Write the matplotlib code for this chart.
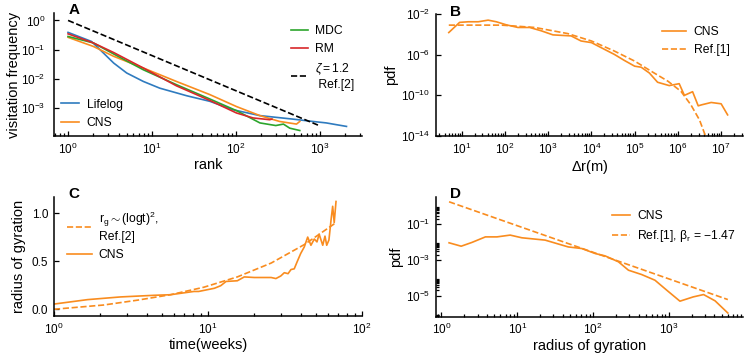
import numpy as np
import matplotlib
matplotlib.use("Agg")
import matplotlib.pyplot as plt
from matplotlib.ticker import FixedLocator, NullLocator, LogLocator

plt.rcParams['font.family'] = ['Liberation Sans', 'DejaVu Sans']
plt.rcParams['mathtext.fontset'] = 'custom'
plt.rcParams['mathtext.rm'] = 'Liberation Sans'
plt.rcParams['mathtext.it'] = 'Liberation Sans:italic'
plt.rcParams['mathtext.bf'] = 'Liberation Sans:bold'

BLUE = '#2f7bbf'
ORANGE = '#f98c1f'
GREEN = '#2ca52c'
RED = '#d8282a'

# ---- panel A: rank vs visitation frequency (log10 values)
lifelog_rank = [1, 1.9, 2.4, 3.5, 5, 7.9, 12.4, 26, 49, 93, 194, 480, 830, 1200, 1580, 2090]
lifelog_logf = [-0.41, -0.72, -1.0, -1.46, -1.8, -2.09, -2.32, -2.58, -2.77, -3.06, -3.26, -3.38,
                -3.46, -3.51, -3.57, -3.63]
cns_rank = [1, 2, 3.5, 7.9, 19.6, 49, 102, 194, 333, 530, 580]
cns_logf = [-0.58, -0.89, -1.23, -1.63, -2.09, -2.54, -2.95, -3.26, -3.46, -3.55, -3.46]
mdc_rank = [1, 2, 3.5, 7.9, 19.6, 49, 102, 194, 300, 370, 440, 580]
mdc_logf = [-0.55, -0.77, -1.15, -1.69, -2.2, -2.69, -3.09, -3.51, -3.6, -3.55, -3.69, -3.77]
rm_rank = [1, 2, 3.5, 7.9, 19.6, 49, 102, 161, 253, 270]
rm_logf = [-0.46, -0.77, -1.1, -1.63, -2.24, -2.74, -3.17, -3.34, -3.4, -3.38]
zipf_rank = [1, 955]
zipf_freq = [1.0, 2.6e-4]

# ---- panel B: jump length distribution (log10 values)
dr_cns_log = [0.70, 0.95, 1.15, 1.38, 1.61, 1.8, 2.03, 2.3, 2.57, 2.84, 3.11, 3.53, 3.76, 4.0,
              4.3, 4.53, 4.76, 5.0, 5.15, 5.34, 5.53, 5.8, 6.03, 6.15, 6.34, 6.47, 6.55, 6.77,
              7.0, 7.15]
pdf_cns_log = [-3.82, -2.82, -2.76, -2.76, -2.6, -2.76, -3.06, -3.32, -3.32, -3.65, -4.05,
               -4.15, -4.65, -4.81, -5.47, -5.97, -6.56, -7.13, -7.23, -7.8, -8.71, -9.04,
               -8.85, -10.0, -9.64, -11.03, -10.93, -10.7, -10.83, -11.92]
dr_ref_log = [0.70, 1.92, 2.69, 3.45, 4.0, 4.53, 5.0, 5.38, 5.77, 6.07, 6.3, 6.5, 6.63]
pdf_ref_log = [-3.09, -3.09, -3.32, -3.92, -4.65, -5.64, -6.63, -7.62, -8.61, -9.6, -10.93,
               -12.42, -13.9]

# ---- panel C: radius of gyration vs time
t_cns = [1, 1.65, 2.7, 4.47, 5.7, 8.1, 8.7, 11, 12.1, 13.1, 15.5, 17.2, 20, 25.7, 27.6, 29.7,
         31.3, 33.1, 34.6, 36.3, 38, 40, 42.2, 44.4, 46.6, 49, 51, 52.7, 55.6, 57.5, 59, 61,
         63, 64.5, 66, 67.8]
rg_cns = [0.054, 0.10, 0.128, 0.145, 0.151, 0.185, 0.185, 0.218, 0.245, 0.289, 0.296, 0.336,
          0.33, 0.33, 0.319, 0.346, 0.38, 0.37, 0.413, 0.42, 0.497, 0.58, 0.648, 0.75, 0.665,
          0.73, 0.70, 0.78, 0.665, 0.76, 0.665, 0.72, 0.933, 1.07, 0.9, 1.12]
t_ref = [1, 2.1, 3.5, 5.7, 9.4, 15.5, 25.7, 42.2, 67.8]
rg_ref = [0.0, 0.044, 0.095, 0.151, 0.229, 0.336, 0.48, 0.672, 0.9]

# ---- panel D: radius of gyration distribution (log10 pdf)
rg_bins = [1.26, 1.82, 2.52, 3.8, 5.4, 8.06, 11.5, 23.3, 47, 71, 107, 144, 216, 293, 436, 656,
           940, 1400, 2100, 2870, 4070, 6000]
pdf_rg_log = [-2.04, -2.23, -2.02, -1.71, -1.71, -1.61, -1.76, -1.89, -2.27, -2.36, -2.64,
              -2.77, -3.1, -3.57, -3.81, -4.13, -4.69, -5.3, -5.06, -4.93, -5.28, -5.96]
rg_ref_x = [1.26, 6000]
rg_ref_pdf = [10 ** 0.25, 10 ** -5.21]


def style(ax):
    for s in ['top', 'right']:
        ax.spines[s].set_visible(False)
    for s in ['left', 'bottom']:
        ax.spines[s].set_linewidth(1.1)
    ax.tick_params(which='both', direction='in', labelsize=8.5, width=0.9, pad=4)
    ax.tick_params(which='major', length=3.5)
    ax.tick_params(which='minor', length=2)


fig = plt.figure(figsize=(7.47, 3.63), dpi=100)
axA = fig.add_axes([0.0723, 0.6253, 0.4123, 0.339])
axB = fig.add_axes([0.5833, 0.6253, 0.4113, 0.336])
axC = fig.add_axes([0.0723, 0.1295, 0.4123, 0.3287])
axD = fig.add_axes([0.5833, 0.1275, 0.4113, 0.3305])
lw = 1.2

# A
lA1, = axA.plot(lifelog_rank, 10 ** np.array(lifelog_logf), color=BLUE, lw=lw, label='Lifelog')
lA2, = axA.plot(cns_rank, 10 ** np.array(cns_logf), color=ORANGE, lw=lw, label='CNS')
lA3, = axA.plot(mdc_rank, 10 ** np.array(mdc_logf), color=GREEN, lw=lw, label='MDC')
lA4, = axA.plot(rm_rank, 10 ** np.array(rm_logf), color=RED, lw=lw, label='RM')
lA5, = axA.plot(zipf_rank, zipf_freq, color='black', lw=lw, ls='--',
                label='$\\zeta = 1.2$\n Ref.[2]')
axA.set_xscale('log')
axA.set_yscale('log')
axA.set_xlim(0.68, 3200)
axA.set_ylim(1.1e-4, 1.8)
axA.xaxis.set_major_locator(FixedLocator([1, 10, 100, 1000]))
axA.xaxis.set_minor_locator(LogLocator(subs=np.arange(2, 10)))
axA.yaxis.set_major_locator(FixedLocator([1, 0.1, 0.01, 0.001]))
axA.yaxis.set_minor_locator(NullLocator())
axA.set_xlabel('rank', fontsize=10.5, labelpad=1)
axA.set_ylabel('visitation frequency', fontsize=10.5, labelpad=0)
legA1 = axA.legend(handles=[lA1, lA2], loc='lower left', bbox_to_anchor=(0.0, 0.0),
                   frameon=False, fontsize=8.7, handlelength=1.5, handletextpad=0.6,
                   borderaxespad=0.2)
axA.add_artist(legA1)
axA.legend(handles=[lA3, lA4, lA5], loc='upper right', bbox_to_anchor=(1.0, 0.96),
           frameon=False, fontsize=8.7, handlelength=1.4, handletextpad=0.6,
           borderaxespad=0.2)
style(axA)
axA.tick_params(axis='y', which='both', pad=6)

# B
axB.plot(10 ** np.array(dr_cns_log), 10 ** np.array(pdf_cns_log), color=ORANGE, lw=lw,
         label='CNS')
axB.plot(10 ** np.array(dr_ref_log), 10 ** np.array(pdf_ref_log), color=ORANGE, lw=lw,
         ls='--', label='Ref.[1]')
axB.set_xscale('log')
axB.set_yscale('log')
axB.set_xlim(2.5, 3.2e7)
axB.set_ylim(1e-14, 1e-2)
axB.xaxis.set_major_locator(FixedLocator([10.0 ** k for k in range(1, 8)]))
axB.xaxis.set_minor_locator(LogLocator(subs=np.arange(2, 10)))
axB.yaxis.set_major_locator(FixedLocator([1e-2, 1e-6, 1e-10, 1e-14]))
axB.yaxis.set_minor_locator(NullLocator())
axB.set_xlabel('$\\Delta$r(m)', fontsize=10.5, labelpad=1)
axB.set_ylabel('pdf', fontsize=10.5, labelpad=2)
axB.legend(loc='upper right', bbox_to_anchor=(0.98, 0.96), frameon=False, fontsize=8.7,
           handlelength=2.0, handletextpad=0.6, borderaxespad=0.2)
style(axB)

# C
axC.plot(t_ref, rg_ref, color=ORANGE, lw=lw, ls='--',
         label='r$_\\mathregular{g}$$\\sim$(logt)$^\\mathregular{2}$,\nRef.[2]')
axC.plot(t_cns, rg_cns, color=ORANGE, lw=lw, label='CNS')
axC.set_xscale('log')
axC.set_xlim(1, 100)
axC.set_ylim(-0.07, 1.17)
axC.xaxis.set_major_locator(FixedLocator([1, 10, 100]))
axC.xaxis.set_minor_locator(LogLocator(subs=np.arange(2, 10)))
axC.set_yticks([0.0, 0.5, 1.0])
axC.set_yticklabels(['0.0', '0.5', '1.0'])
axC.set_xlabel('time(weeks)', fontsize=10.5, labelpad=1)
axC.set_ylabel('radius of gyration', fontsize=10.5, labelpad=4)
axC.legend(loc='upper left', bbox_to_anchor=(0.02, 0.95), frameon=False, fontsize=8.7,
           handlelength=2.0, handletextpad=0.6, borderaxespad=0.2)
style(axC)

# D
axD.plot(rg_bins, 10 ** np.array(pdf_rg_log), color=ORANGE, lw=lw, label='CNS')
axD.plot(rg_ref_x, rg_ref_pdf, color=ORANGE, lw=lw, ls='--',
         label='Ref.[1], β$_\\mathregular{r}$ = $-$1.47')
axD.set_xscale('log')
axD.set_yscale('log')
axD.set_xlim(0.84, 9500)
axD.set_ylim(6.8e-7, 3.4)
axD.xaxis.set_major_locator(FixedLocator([1, 10, 100, 1000]))
axD.xaxis.set_minor_locator(LogLocator(subs=np.arange(2, 10)))
axD.yaxis.set_major_locator(FixedLocator([1e-1, 1e-3, 1e-5]))
axD.yaxis.set_minor_locator(FixedLocator([s * 10.0 ** e for e in (-7, -5, -3, -1)
                                          for s in range(2, 10)]))
axD.set_xlabel('radius of gyration', fontsize=10.5, labelpad=1)
axD.set_ylabel('pdf', fontsize=10.5, labelpad=2)
axD.legend(loc='upper right', bbox_to_anchor=(1.0, 0.95), frameon=False, fontsize=8.7,
           handlelength=1.5, handletextpad=0.6, borderaxespad=0.2)
style(axD)

for ax, letter in zip([axA, axB, axC, axD], 'ABCD'):
    ax.text(0.065, 1.02, letter, transform=ax.transAxes, fontsize=11, fontweight='bold',
            va='center', ha='center')

fig.savefig('out.png', dpi=100)
